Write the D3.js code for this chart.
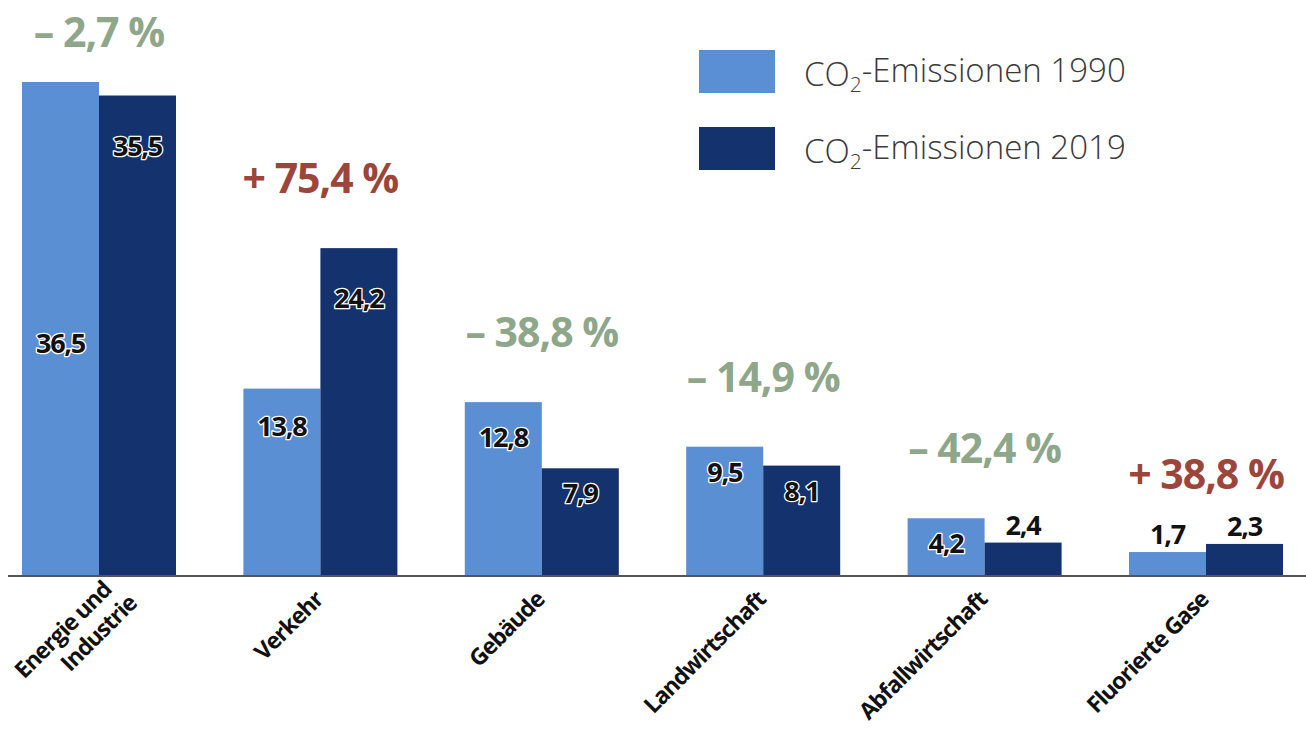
<!DOCTYPE html>
<html>
<head>
<meta charset="utf-8">
<script src="https://cdn.jsdelivr.net/npm/d3@7"></script>
<style>
  html, body { margin: 0; padding: 0; background: #fff; }
  svg { display: block; }
</style>
</head>
<body>
<div id="chart"></div>
<script>
// data
const categories = ["Energie und Industrie", "Verkehr", "Gebäude", "Landwirtschaft", "Abfallwirtschaft", "Fluorierte Gase"];
const values1990 = [36.5, 13.8, 12.8, 9.5, 4.2, 1.7];
const values2019 = [35.5, 24.2, 7.9, 8.1, 2.4, 2.3];
const changeLabels = ["– 2,7 %", "+ 75,4 %", "– 38,8 %", "– 14,9 %", "– 42,4 %", "+ 38,8 %"];
const seriesNames = ["1990", "2019"];

const W = 1306, H = 733;
const baseY = 575;
const COL_LIGHT = "#5b8fd3";
const COL_DARK = "#14326d";
const COL_DOWN = "#8ea689";
const COL_UP = "#9c463b";

const svg = d3.select("#chart").append("svg")
  .attr("width", W)
  .attr("height", H);

const x0 = d3.scaleBand()
  .domain(categories)
  .range([22, 1283])
  .paddingInner(0.3044)
  .paddingOuter(0);

const x1 = d3.scaleBand()
  .domain(seriesNames)
  .range([0, x0.bandwidth()]);

const y = d3.scaleLinear()
  .domain([0, 36.5])
  .range([baseY, 82]);

const colors = { "1990": COL_LIGHT, "2019": COL_DARK };

const rows = categories.map((c, i) => ({
  cat: c,
  vals: [
    { s: "1990", v: values1990[i] },
    { s: "2019", v: values2019[i] }
  ],
  change: changeLabels[i]
}));

const groups = svg.selectAll(".grp")
  .data(rows)
  .enter()
  .append("g")
  .attr("class", "grp")
  .attr("transform", d => `translate(${x0(d.cat)},0)`);

groups.selectAll("rect")
  .data(d => d.vals)
  .enter()
  .append("rect")
  .attr("x", d => x1(d.s))
  .attr("y", d => y(d.v))
  .attr("width", x1.bandwidth())
  .attr("height", d => baseY - y(d.v))
  .attr("fill", d => colors[d.s]);

// value labels
const fmt = v => String(v.toFixed(1)).replace(".", ",");
groups.selectAll(".val")
  .data(d => d.vals)
  .enter()
  .append("text")
  .attr("class", "val")
  .attr("x", d => x1(d.s) + x1.bandwidth() / 2)
  .attr("y", d => {
    const h = baseY - y(d.v);
    if (h < 45) return y(d.v) - 8;
    if (d.s === "1990" && h > 400) return y(d.v) + h / 2 + 24;
    return y(d.v) + Math.min(50, Math.max(25, h * 0.2)) + 10;
  })
  .attr("text-anchor", "middle")
  .attr("font-family", "'Open Sans', sans-serif")
  .attr("font-weight", 700)
  .attr("font-size", "27px")
  .attr("letter-spacing", "-1.2px")
  .attr("fill", "#111")
  .attr("stroke", d => (baseY - y(d.v)) < 45 ? "none" : "#fff")
  .attr("stroke-width", 2.6)
  .attr("stroke-linejoin", "round")
  .attr("paint-order", "stroke")
  .text(d => fmt(d.v));

// change labels
groups.append("text")
  .attr("x", x0.bandwidth() / 2)
  .attr("y", d => Math.max(47, y(d3.max(d.vals, v => v.v)) - 55))
  .attr("text-anchor", "middle")
  .attr("font-family", "'Open Sans', sans-serif")
  .attr("font-weight", 700)
  .attr("font-size", "41px")
  .attr("letter-spacing", "-1px")
  .attr("fill", d => d.change.startsWith("+") ? COL_UP : COL_DOWN)
  .text(d => d.change);

// axis line
svg.append("line")
  .attr("x1", 8)
  .attr("x2", W)
  .attr("y1", baseY + 1)
  .attr("y2", baseY + 1)
  .attr("stroke", "#555")
  .attr("stroke-width", 2);

// category labels
const catLabels = svg.selectAll(".cat")
  .data(categories)
  .enter()
  .append("text")
  .attr("class", "cat")
  .attr("transform", d => `translate(${x0(d) + x0.bandwidth() / 2 + 4},${baseY + 26}) rotate(-45)`)
  .attr("text-anchor", "end")
  .attr("font-family", "'Open Sans', sans-serif")
  .attr("font-weight", 700)
  .attr("font-size", "23px")
  .attr("letter-spacing", "-1px")
  .attr("fill", "#111");

catLabels.each(function (d) {
  const t = d3.select(this);
  if (d === "Energie und Industrie") {
    t.append("tspan").attr("x", 14).attr("dy", "0").text("Energie und");
    t.append("tspan").attr("x", 22).attr("dy", "1.2em").text("Industrie");
  } else {
    t.text(d);
  }
});

// legend
const legend = svg.append("g").attr("transform", "translate(699,50)");
seriesNames.forEach((s, i) => {
  const g = legend.append("g").attr("transform", `translate(0,${i * 77})`);
  g.append("rect")
    .attr("width", 76)
    .attr("height", 43)
    .attr("fill", colors[s]);
  const t = g.append("text")
    .attr("x", 105)
    .attr("y", 36)
    .attr("font-family", "'Open Sans', sans-serif")
    .attr("font-weight", 300)
    .attr("font-size", "33px")
    .attr("fill", "#3a3a3a");
  t.append("tspan").text("CO");
  t.append("tspan").attr("dy", "0.3em").attr("font-size", "21px").text("2");
  t.append("tspan").attr("dy", "-0.3em").text("-Emissionen " + s);
});
</script>
</body>
</html>
